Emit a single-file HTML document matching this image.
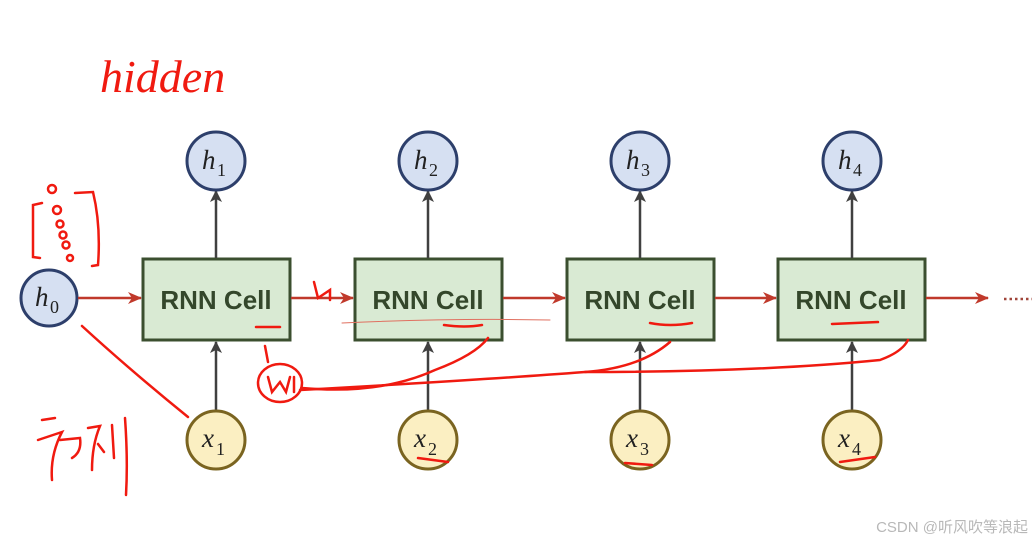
<!DOCTYPE html>
<html><head><meta charset="utf-8"><style>
html,body{margin:0;padding:0;background:#fff;width:1035px;height:544px;overflow:hidden}
</style></head><body>
<svg width="1035" height="544" viewBox="0 0 1035 544" xmlns="http://www.w3.org/2000/svg">
<defs>
<marker id="ar" markerWidth="14" markerHeight="12" refX="13" refY="6" orient="auto" markerUnits="userSpaceOnUse"><path d="M0,0 L14,6 L0,12 L4,6 Z" fill="#c0392b"/></marker>
<marker id="ag" markerWidth="12" markerHeight="12" refX="11" refY="6" orient="auto" markerUnits="userSpaceOnUse"><path d="M0,0 L12,6 L0,12 L3,6 Z" fill="#404040"/></marker>
</defs>
<g font-family="Liberation Serif, serif" font-size="27" fill="#222">
<circle cx="49" cy="298" r="28" fill="#d6e0f2" stroke="#2d3f6b" stroke-width="3"/>
<text x="35" y="306" font-style="italic">h</text><text x="50" y="313" font-size="18">0</text>
<line x1="78" y1="298" x2="141" y2="298" stroke="#c0392b" stroke-width="2.5" marker-end="url(#ar)"/>

<rect x="143" y="259" width="147" height="81" fill="#d9ead3" stroke="#3b4f2f" stroke-width="3"/>
<text x="216" y="309" text-anchor="middle" font-family="Liberation Sans, sans-serif" font-weight="bold" font-size="26" fill="#34472b">RNN Cell</text>
<line x1="216" y1="258" x2="216" y2="191" stroke="#404040" stroke-width="2.5" marker-end="url(#ag)"/>
<line x1="216" y1="411" x2="216" y2="342" stroke="#404040" stroke-width="2.5" marker-end="url(#ag)"/>
<circle cx="216" cy="161" r="29" fill="#d6e0f2" stroke="#2d3f6b" stroke-width="3"/>
<text x="202" y="169" font-style="italic">h</text><text x="217" y="176" font-size="18">1</text>
<circle cx="216" cy="440" r="29" fill="#fbefc2" stroke="#7a6420" stroke-width="3"/>
<text x="202" y="447" font-style="italic">x</text><text x="216" y="455" font-size="18">1</text>
<line x1="291" y1="298" x2="353" y2="298" stroke="#c0392b" stroke-width="2.5" marker-end="url(#ar)"/>

<rect x="355" y="259" width="147" height="81" fill="#d9ead3" stroke="#3b4f2f" stroke-width="3"/>
<text x="428" y="309" text-anchor="middle" font-family="Liberation Sans, sans-serif" font-weight="bold" font-size="26" fill="#34472b">RNN Cell</text>
<line x1="428" y1="258" x2="428" y2="191" stroke="#404040" stroke-width="2.5" marker-end="url(#ag)"/>
<line x1="428" y1="411" x2="428" y2="342" stroke="#404040" stroke-width="2.5" marker-end="url(#ag)"/>
<circle cx="428" cy="161" r="29" fill="#d6e0f2" stroke="#2d3f6b" stroke-width="3"/>
<text x="414" y="169" font-style="italic">h</text><text x="429" y="176" font-size="18">2</text>
<circle cx="428" cy="440" r="29" fill="#fbefc2" stroke="#7a6420" stroke-width="3"/>
<text x="414" y="447" font-style="italic">x</text><text x="428" y="455" font-size="18">2</text>
<line x1="503" y1="298" x2="565" y2="298" stroke="#c0392b" stroke-width="2.5" marker-end="url(#ar)"/>

<rect x="567" y="259" width="147" height="81" fill="#d9ead3" stroke="#3b4f2f" stroke-width="3"/>
<text x="640" y="309" text-anchor="middle" font-family="Liberation Sans, sans-serif" font-weight="bold" font-size="26" fill="#34472b">RNN Cell</text>
<line x1="640" y1="258" x2="640" y2="191" stroke="#404040" stroke-width="2.5" marker-end="url(#ag)"/>
<line x1="640" y1="411" x2="640" y2="342" stroke="#404040" stroke-width="2.5" marker-end="url(#ag)"/>
<circle cx="640" cy="161" r="29" fill="#d6e0f2" stroke="#2d3f6b" stroke-width="3"/>
<text x="626" y="169" font-style="italic">h</text><text x="641" y="176" font-size="18">3</text>
<circle cx="640" cy="440" r="29" fill="#fbefc2" stroke="#7a6420" stroke-width="3"/>
<text x="626" y="447" font-style="italic">x</text><text x="640" y="455" font-size="18">3</text>
<line x1="715" y1="298" x2="776" y2="298" stroke="#c0392b" stroke-width="2.5" marker-end="url(#ar)"/>

<rect x="778" y="259" width="147" height="81" fill="#d9ead3" stroke="#3b4f2f" stroke-width="3"/>
<text x="851" y="309" text-anchor="middle" font-family="Liberation Sans, sans-serif" font-weight="bold" font-size="26" fill="#34472b">RNN Cell</text>
<line x1="852" y1="258" x2="852" y2="191" stroke="#404040" stroke-width="2.5" marker-end="url(#ag)"/>
<line x1="852" y1="411" x2="852" y2="342" stroke="#404040" stroke-width="2.5" marker-end="url(#ag)"/>
<circle cx="852" cy="161" r="29" fill="#d6e0f2" stroke="#2d3f6b" stroke-width="3"/>
<text x="838" y="169" font-style="italic">h</text><text x="853" y="176" font-size="18">4</text>
<circle cx="852" cy="440" r="29" fill="#fbefc2" stroke="#7a6420" stroke-width="3"/>
<text x="838" y="447" font-style="italic">x</text><text x="852" y="455" font-size="18">4</text>
<line x1="926" y1="298" x2="988" y2="298" stroke="#c0392b" stroke-width="2.5" marker-end="url(#ar)"/>
<line x1="1004" y1="299" x2="1032" y2="299" stroke="#a0453a" stroke-width="2.5" stroke-dasharray="2.5,3"/>
</g>
<g fill="none" stroke="#f01a10" stroke-width="2.5" stroke-linecap="round">
<text x="100" y="92" font-family="Liberation Serif, serif" font-style="italic" font-size="46" fill="#f01a10" stroke="none">hidden</text>
<path d="M42,203 L33,205 L33,257 L40,258"/>
<path d="M75,193 L93,192 Q101,225 98,265 L92,266"/>
<circle cx="52" cy="189" r="4"/><circle cx="57" cy="210" r="4"/><circle cx="60" cy="224" r="3.5"/><circle cx="63" cy="235" r="3.5"/><circle cx="66" cy="245" r="3.5"/><circle cx="70" cy="258" r="3"/>
<path d="M82,326 Q130,370 188,417"/>
<path d="M42,420 L55,418 M38,440 L62,432 Q50,455 52,480 M60,440 L80,438 Q82,452 72,458 M88,428 L100,426 Q92,445 92,470 M98,444 L104,452 M112,425 L114,458 M125,418 Q128,460 126,495"/>
<path d="M256,327 L280,327"/>
<path d="M314,282 L318,298 L330,290 L330,300"/>
<path d="M342,323 Q450,318 550,320" stroke-width="1" stroke="#e07060"/>
<path d="M444,325 Q465,328 482,325"/>
<path d="M650,323 Q670,327 692,323"/>
<path d="M832,324 L878,322"/>
<path d="M265,346 L268,362"/>
<ellipse cx="280" cy="383" rx="22" ry="19"/>
<path d="M268,377 L272,392 L280,382 L286,392 L290,377 M294,377 L294,392"/>
<path d="M302,388 Q380,395 435,370 Q475,355 488,338"/>
<path d="M300,390 Q480,380 585,372 Q640,368 670,342"/>
<path d="M585,372 Q760,372 880,360 Q902,352 908,340"/>
<path d="M418,458 L448,462"/>
<path d="M625,463 L652,465"/>
<path d="M840,462 L875,457"/>
</g>
<text x="1028" y="532" text-anchor="end" font-family="Liberation Sans, Noto Sans CJK SC, sans-serif" font-size="15" fill="#b8b8b8">CSDN @听风吹等浪起</text>
</svg>
</body></html>
